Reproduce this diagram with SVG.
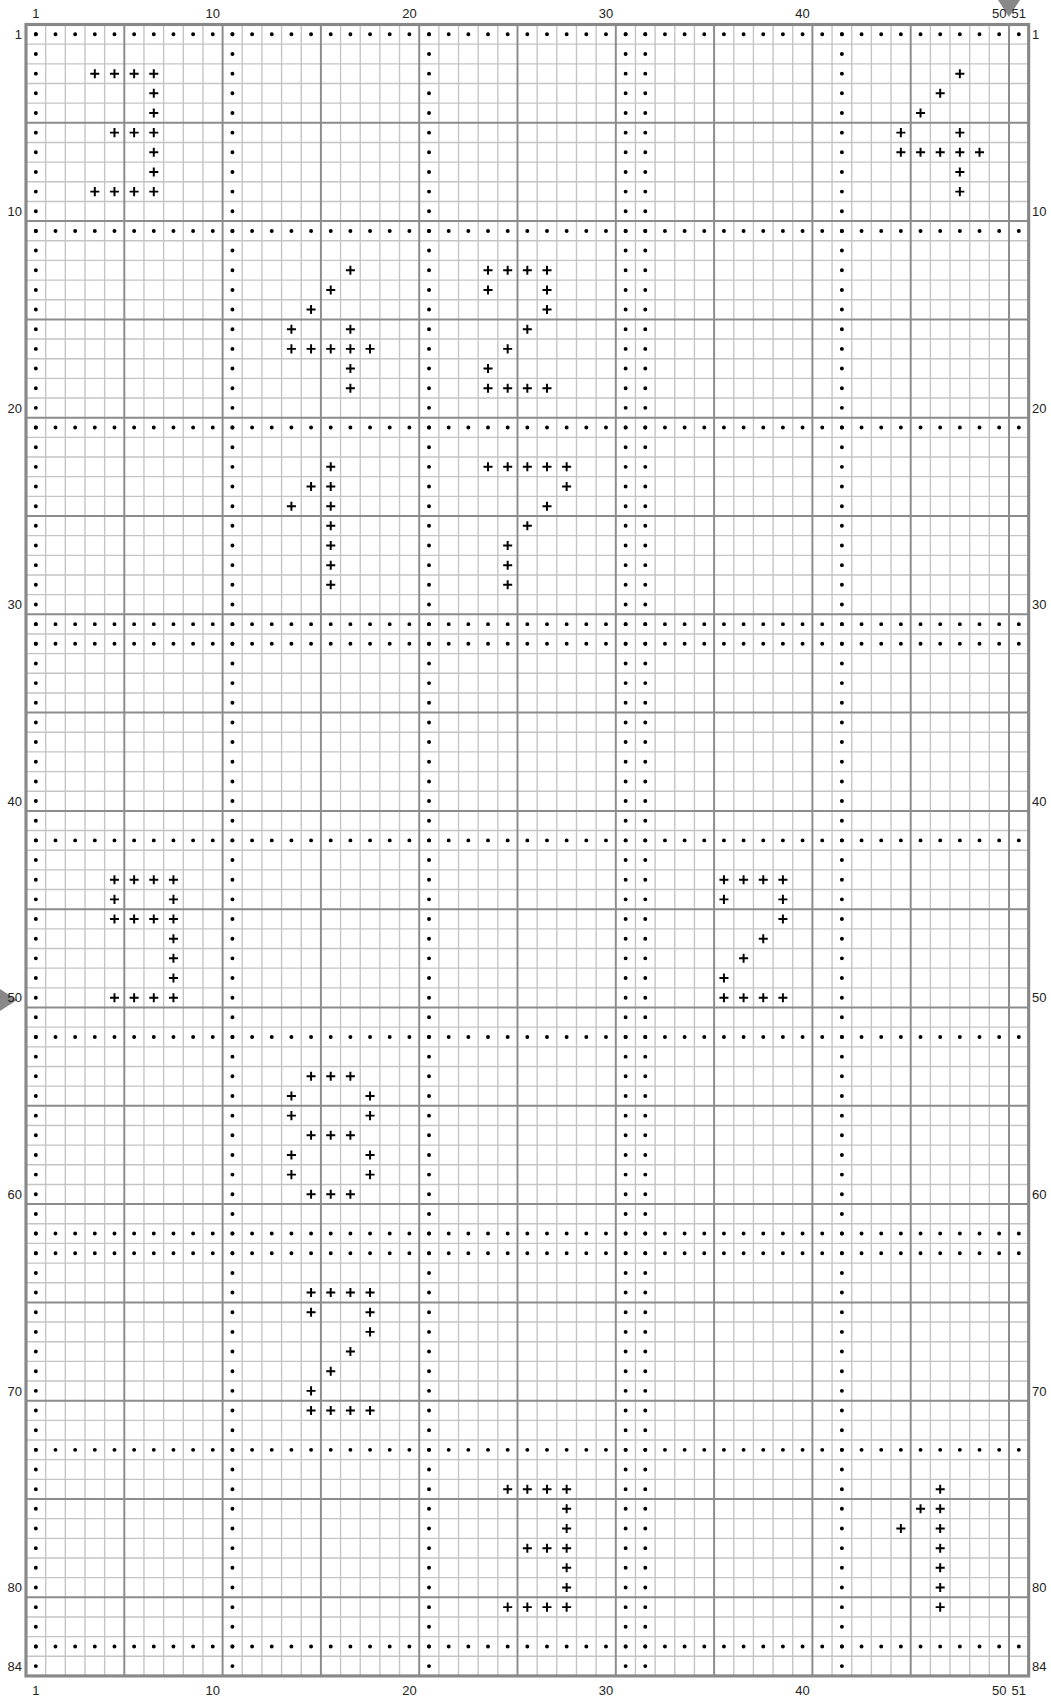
<svg xmlns="http://www.w3.org/2000/svg" width="1051" height="1698" viewBox="0 0 1051 1698">
<style>
.lbl{font-family:"Liberation Sans",Arial,sans-serif;font-size:13px;fill:#222}
.thin{fill:none;stroke:#c4c4c4;stroke-width:0.07}
.major{fill:none;stroke:#8c8c8c;stroke-width:0.1}
.border{fill:none;stroke:#888;stroke-width:0.16}
.dots{fill:none;stroke:#000;stroke-width:0.2;stroke-linecap:round;stroke-dasharray:0 1}
.mark{fill:#888}
</style>
<defs>
<path id="x" d="M-0.23 0H0.23M0 -0.23V0.23" stroke="#000" stroke-width="0.1" fill="none"/>
</defs>
<rect width="1051" height="1698" fill="#fff"/>
<g id="chart" transform="translate(26,24.5) scale(19.66)">
<g id="grid">
<path class="thin" d="M1 0V84M2 0V84M3 0V84M4 0V84M6 0V84M7 0V84M8 0V84M9 0V84M11 0V84M12 0V84M13 0V84M14 0V84M16 0V84M17 0V84M18 0V84M19 0V84M21 0V84M22 0V84M23 0V84M24 0V84M26 0V84M27 0V84M28 0V84M29 0V84M31 0V84M32 0V84M33 0V84M34 0V84M36 0V84M37 0V84M38 0V84M39 0V84M41 0V84M42 0V84M43 0V84M44 0V84M46 0V84M47 0V84M48 0V84M49 0V84
M0 1H51M0 2H51M0 3H51M0 4H51M0 6H51M0 7H51M0 8H51M0 9H51M0 11H51M0 12H51M0 13H51M0 14H51M0 16H51M0 17H51M0 18H51M0 19H51M0 21H51M0 22H51M0 23H51M0 24H51M0 26H51M0 27H51M0 28H51M0 29H51M0 31H51M0 32H51M0 33H51M0 34H51M0 36H51M0 37H51M0 38H51M0 39H51M0 41H51M0 42H51M0 43H51M0 44H51M0 46H51M0 47H51M0 48H51M0 49H51M0 51H51M0 52H51M0 53H51M0 54H51M0 56H51M0 57H51M0 58H51M0 59H51M0 61H51M0 62H51M0 63H51M0 64H51M0 66H51M0 67H51M0 68H51M0 69H51M0 71H51M0 72H51M0 73H51M0 74H51M0 76H51M0 77H51M0 78H51M0 79H51M0 81H51M0 82H51M0 83H51"/>
<path class="major" d="M5 0V84M10 0V84M15 0V84M20 0V84M25 0V84M30 0V84M35 0V84M40 0V84M45 0V84M50 0V84
M0 5H51M0 10H51M0 15H51M0 20H51M0 25H51M0 30H51M0 35H51M0 40H51M0 45H51M0 50H51M0 55H51M0 60H51M0 65H51M0 70H51M0 75H51M0 80H51"/>
<rect class="border" x="0" y="0" width="51" height="84"/>
</g>
<g id="dots">
<path class="dots" d="M0.5 0.5H51M0.5 10.5H51M0.5 20.5H51M0.5 30.5H51M0.5 31.5H51M0.5 41.5H51M0.5 51.5H51M0.5 61.5H51M0.5 62.5H51M0.5 72.5H51M0.5 82.5H51"/>
<path class="dots" d="M0.5 0.5V84M10.5 0.5V84M20.5 0.5V84M30.5 0.5V84M31.5 0.5V84M41.5 0.5V84"/>
</g>
<g id="digit-3a">
<use href="#x" x="3.5" y="2.5"/><use href="#x" x="4.5" y="2.5"/><use href="#x" x="5.5" y="2.5"/><use href="#x" x="6.5" y="2.5"/>
<use href="#x" x="6.5" y="3.5"/><use href="#x" x="6.5" y="4.5"/>
<use href="#x" x="4.5" y="5.5"/><use href="#x" x="5.5" y="5.5"/><use href="#x" x="6.5" y="5.5"/>
<use href="#x" x="6.5" y="6.5"/><use href="#x" x="6.5" y="7.5"/>
<use href="#x" x="3.5" y="8.5"/><use href="#x" x="4.5" y="8.5"/><use href="#x" x="5.5" y="8.5"/><use href="#x" x="6.5" y="8.5"/>
</g>
<g id="digit-4a">
<use href="#x" x="47.5" y="2.5"/><use href="#x" x="46.5" y="3.5"/><use href="#x" x="45.5" y="4.5"/>
<use href="#x" x="44.5" y="5.5"/><use href="#x" x="47.5" y="5.5"/>
<use href="#x" x="44.5" y="6.5"/><use href="#x" x="45.5" y="6.5"/><use href="#x" x="46.5" y="6.5"/><use href="#x" x="47.5" y="6.5"/><use href="#x" x="48.5" y="6.5"/>
<use href="#x" x="47.5" y="7.5"/><use href="#x" x="47.5" y="8.5"/>
</g>
<g id="digit-4b">
<use href="#x" x="16.5" y="12.5"/><use href="#x" x="15.5" y="13.5"/><use href="#x" x="14.5" y="14.5"/>
<use href="#x" x="13.5" y="15.5"/><use href="#x" x="16.5" y="15.5"/>
<use href="#x" x="13.5" y="16.5"/><use href="#x" x="14.5" y="16.5"/><use href="#x" x="15.5" y="16.5"/><use href="#x" x="16.5" y="16.5"/><use href="#x" x="17.5" y="16.5"/>
<use href="#x" x="16.5" y="17.5"/><use href="#x" x="16.5" y="18.5"/>
</g>
<g id="digit-2a">
<use href="#x" x="23.5" y="12.5"/><use href="#x" x="24.5" y="12.5"/><use href="#x" x="25.5" y="12.5"/><use href="#x" x="26.5" y="12.5"/>
<use href="#x" x="23.5" y="13.5"/><use href="#x" x="26.5" y="13.5"/>
<use href="#x" x="26.5" y="14.5"/><use href="#x" x="25.5" y="15.5"/><use href="#x" x="24.5" y="16.5"/><use href="#x" x="23.5" y="17.5"/>
<use href="#x" x="23.5" y="18.5"/><use href="#x" x="24.5" y="18.5"/><use href="#x" x="25.5" y="18.5"/><use href="#x" x="26.5" y="18.5"/>
</g>
<g id="digit-1a">
<use href="#x" x="15.5" y="22.5"/><use href="#x" x="14.5" y="23.5"/><use href="#x" x="15.5" y="23.5"/>
<use href="#x" x="13.5" y="24.5"/><use href="#x" x="15.5" y="24.5"/>
<use href="#x" x="15.5" y="25.5"/><use href="#x" x="15.5" y="26.5"/><use href="#x" x="15.5" y="27.5"/><use href="#x" x="15.5" y="28.5"/>
</g>
<g id="digit-7">
<use href="#x" x="23.5" y="22.5"/><use href="#x" x="24.5" y="22.5"/><use href="#x" x="25.5" y="22.5"/><use href="#x" x="26.5" y="22.5"/><use href="#x" x="27.5" y="22.5"/>
<use href="#x" x="27.5" y="23.5"/><use href="#x" x="26.5" y="24.5"/><use href="#x" x="25.5" y="25.5"/>
<use href="#x" x="24.5" y="26.5"/><use href="#x" x="24.5" y="27.5"/><use href="#x" x="24.5" y="28.5"/>
</g>
<g id="digit-9">
<use href="#x" x="4.5" y="43.5"/><use href="#x" x="5.5" y="43.5"/><use href="#x" x="6.5" y="43.5"/><use href="#x" x="7.5" y="43.5"/>
<use href="#x" x="4.5" y="44.5"/><use href="#x" x="7.5" y="44.5"/>
<use href="#x" x="4.5" y="45.5"/><use href="#x" x="5.5" y="45.5"/><use href="#x" x="6.5" y="45.5"/><use href="#x" x="7.5" y="45.5"/>
<use href="#x" x="7.5" y="46.5"/><use href="#x" x="7.5" y="47.5"/><use href="#x" x="7.5" y="48.5"/>
<use href="#x" x="4.5" y="49.5"/><use href="#x" x="5.5" y="49.5"/><use href="#x" x="6.5" y="49.5"/><use href="#x" x="7.5" y="49.5"/>
</g>
<g id="digit-2b">
<use href="#x" x="35.5" y="43.5"/><use href="#x" x="36.5" y="43.5"/><use href="#x" x="37.5" y="43.5"/><use href="#x" x="38.5" y="43.5"/>
<use href="#x" x="35.5" y="44.5"/><use href="#x" x="38.5" y="44.5"/>
<use href="#x" x="38.5" y="45.5"/><use href="#x" x="37.5" y="46.5"/><use href="#x" x="36.5" y="47.5"/><use href="#x" x="35.5" y="48.5"/>
<use href="#x" x="35.5" y="49.5"/><use href="#x" x="36.5" y="49.5"/><use href="#x" x="37.5" y="49.5"/><use href="#x" x="38.5" y="49.5"/>
</g>
<g id="digit-8">
<use href="#x" x="14.5" y="53.5"/><use href="#x" x="15.5" y="53.5"/><use href="#x" x="16.5" y="53.5"/>
<use href="#x" x="13.5" y="54.5"/><use href="#x" x="17.5" y="54.5"/>
<use href="#x" x="13.5" y="55.5"/><use href="#x" x="17.5" y="55.5"/>
<use href="#x" x="14.5" y="56.5"/><use href="#x" x="15.5" y="56.5"/><use href="#x" x="16.5" y="56.5"/>
<use href="#x" x="13.5" y="57.5"/><use href="#x" x="17.5" y="57.5"/>
<use href="#x" x="13.5" y="58.5"/><use href="#x" x="17.5" y="58.5"/>
<use href="#x" x="14.5" y="59.5"/><use href="#x" x="15.5" y="59.5"/><use href="#x" x="16.5" y="59.5"/>
</g>
<g id="digit-2c">
<use href="#x" x="14.5" y="64.5"/><use href="#x" x="15.5" y="64.5"/><use href="#x" x="16.5" y="64.5"/><use href="#x" x="17.5" y="64.5"/>
<use href="#x" x="14.5" y="65.5"/><use href="#x" x="17.5" y="65.5"/>
<use href="#x" x="17.5" y="66.5"/><use href="#x" x="16.5" y="67.5"/><use href="#x" x="15.5" y="68.5"/><use href="#x" x="14.5" y="69.5"/>
<use href="#x" x="14.5" y="70.5"/><use href="#x" x="15.5" y="70.5"/><use href="#x" x="16.5" y="70.5"/><use href="#x" x="17.5" y="70.5"/>
</g>
<g id="digit-3b">
<use href="#x" x="24.5" y="74.5"/><use href="#x" x="25.5" y="74.5"/><use href="#x" x="26.5" y="74.5"/><use href="#x" x="27.5" y="74.5"/>
<use href="#x" x="27.5" y="75.5"/><use href="#x" x="27.5" y="76.5"/>
<use href="#x" x="25.5" y="77.5"/><use href="#x" x="26.5" y="77.5"/><use href="#x" x="27.5" y="77.5"/>
<use href="#x" x="27.5" y="78.5"/><use href="#x" x="27.5" y="79.5"/>
<use href="#x" x="24.5" y="80.5"/><use href="#x" x="25.5" y="80.5"/><use href="#x" x="26.5" y="80.5"/><use href="#x" x="27.5" y="80.5"/>
</g>
<g id="digit-1b">
<use href="#x" x="46.5" y="74.5"/><use href="#x" x="45.5" y="75.5"/><use href="#x" x="46.5" y="75.5"/>
<use href="#x" x="44.5" y="76.5"/><use href="#x" x="46.5" y="76.5"/>
<use href="#x" x="46.5" y="77.5"/><use href="#x" x="46.5" y="78.5"/><use href="#x" x="46.5" y="79.5"/><use href="#x" x="46.5" y="80.5"/>
</g>
</g>
<g id="markers">
<polygon class="mark" points="998,0 1020,0 1009,17"/>
<polygon class="mark" points="0,989 0,1011 17,1000"/>
</g>
<g id="col-labels-top" class="lbl" text-anchor="middle">
<text x="35.8" y="18">1</text><text x="212.8" y="18">10</text><text x="409.4" y="18">20</text><text x="606" y="18">30</text><text x="802.6" y="18">40</text><text x="999.2" y="18">50</text><text x="1018.8" y="18">51</text>
</g>
<g id="col-labels-bottom" class="lbl" text-anchor="middle">
<text x="35.8" y="1695">1</text><text x="212.8" y="1695">10</text><text x="409.4" y="1695">20</text><text x="606" y="1695">30</text><text x="802.6" y="1695">40</text><text x="999.2" y="1695">50</text><text x="1018.8" y="1695">51</text>
</g>
<g id="row-labels-left" class="lbl" text-anchor="end">
<text x="22" y="39">1</text><text x="22" y="216">10</text><text x="22" y="412.6">20</text><text x="22" y="609.2">30</text><text x="22" y="805.8">40</text><text x="22" y="1002.4">50</text><text x="22" y="1199">60</text><text x="22" y="1395.6">70</text><text x="22" y="1592.2">80</text><text x="22" y="1670.8">84</text>
</g>
<g id="row-labels-right" class="lbl" text-anchor="start">
<text x="1032" y="39">1</text><text x="1032" y="216">10</text><text x="1032" y="412.6">20</text><text x="1032" y="609.2">30</text><text x="1032" y="805.8">40</text><text x="1032" y="1002.4">50</text><text x="1032" y="1199">60</text><text x="1032" y="1395.6">70</text><text x="1032" y="1592.2">80</text><text x="1032" y="1670.8">84</text>
</g>
</svg>
